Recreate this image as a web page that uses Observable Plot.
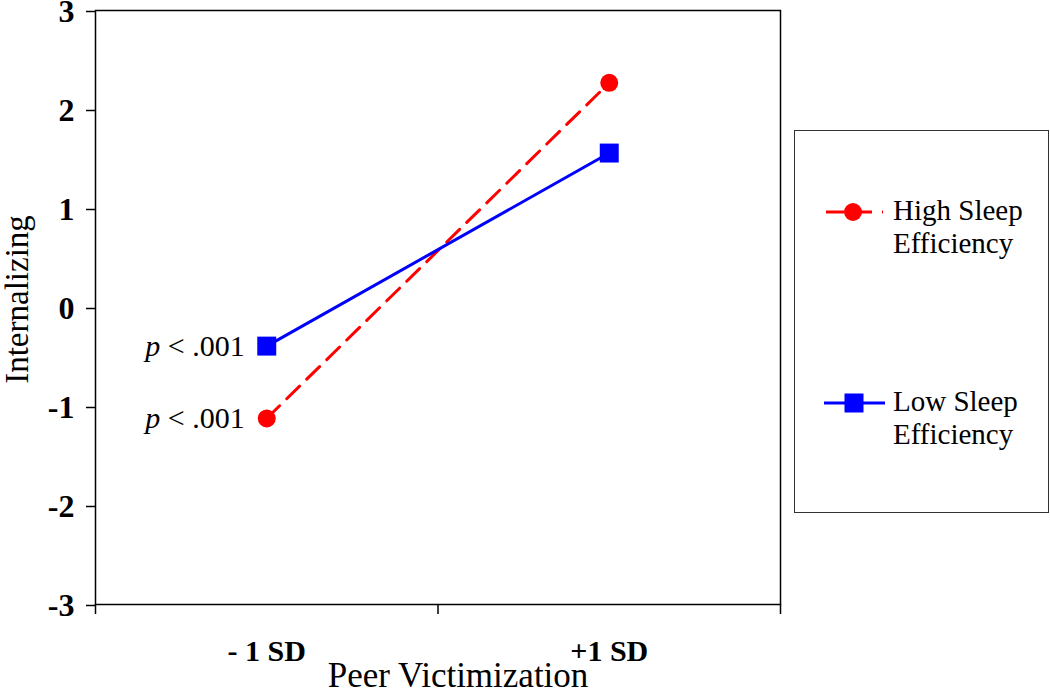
<!DOCTYPE html>
<html>
<head>
<meta charset="utf-8">
<script src="https://cdn.jsdelivr.net/npm/d3@7"></script>
<script src="https://cdn.jsdelivr.net/npm/@observablehq/plot@0.6"></script>
<style>
  body { margin: 0; background: #fff; }
  #wrap { position: relative; width: 1050px; height: 693px; font-family: "Liberation Serif", "Times New Roman", serif; }
  #legend { position: absolute; left: 794px; top: 130px; width: 255px; height: 383px; border: 1.5px solid #333; box-sizing: border-box; background: #fff; }
  .entry { position: absolute; left: 28px; display: flex; align-items: flex-start; }
  .entry svg { flex: none; margin-top: 6px; }
  .entry .lbl { font-size: 29px; line-height: 33px; margin-left: 8px; color: #000; }
</style>
</head>
<body>
<div id="wrap"><div id="legend"></div></div>
<script>
// ---- data ----
const categories = ["- 1 SD", "+1 SD"];
const seriesNames = ["High Sleep Efficiency", "Low Sleep Efficiency"];
const legendLines = [["High Sleep", "Efficiency"], ["Low Sleep", "Efficiency"]];
const highValues = [-1.12, 2.27];
const lowValues = [-0.39, 1.56];
const yTicks = [-3, -2, -1, 0, 1, 2, 3];
const pLabels = ["p < .001", "p < .001"]; // shown at "- 1 SD" for each series
const xTitle = "Peer Victimization";
const yTitle = "Internalizing";

const RED = "#ff0000", BLUE = "#0000ff";

const highRows = categories.map((c, i) => ({pos: i + 0.5, cat: c, value: highValues[i], series: seriesNames[0]}));
const lowRows = categories.map((c, i) => ({pos: i + 0.5, cat: c, value: lowValues[i], series: seriesNames[1]}));
const pRows = [
  {pos: 0.5, value: lowValues[0], text: pLabels[1]},
  {pos: 0.5, value: highValues[0], text: pLabels[0]}
];

const fmt = d => d < 0 ? "-" + (-d) : String(d);

const chart = Plot.plot({
  width: 1050,
  height: 693,
  marginLeft: 95,
  marginRight: 270,
  marginTop: 10,
  marginBottom: 89,
  style: {fontFamily: '"Liberation Serif", "Times New Roman", serif', background: "transparent", color: "#000", overflow: "visible"},
  x: {domain: [0, categories.length]},
  y: {domain: [-3, 3]},
  marks: [
    Plot.frame({stroke: "#000", strokeWidth: 1.5}),
    Plot.axisY({ticks: yTicks, tickSize: 9, tickPadding: 12, tickFormat: fmt, fontSize: 32, fontWeight: "bold", strokeWidth: 1.5, dy: 1, label: null}),
    Plot.axisX({ticks: d3.range(categories.length + 1), tickSize: 10, tickFormat: () => "", strokeWidth: 1.5, label: null}),
    Plot.axisX({ticks: categories.map((c, i) => i + 0.5), tickSize: 0, tickPadding: 35, tickFormat: d => categories[Math.floor(d)], fontSize: 30, fontWeight: "bold", label: null}),
    Plot.text([xTitle], {frameAnchor: "bottom", dx: 20, dy: 71, fontSize: 35, lineAnchor: "middle"}),
    Plot.text([yTitle], {frameAnchor: "left", dx: -78, dy: -8, rotate: -90, fontSize: 33, lineAnchor: "middle", textAnchor: "middle"}),
    Plot.line(highRows, {x: "pos", y: "value", stroke: RED, strokeWidth: 3, strokeDasharray: "18,10"}),
    Plot.line(lowRows, {x: "pos", y: "value", stroke: BLUE, strokeWidth: 3}),
    Plot.dot(highRows, {x: "pos", y: "value", r: 9, fill: RED, symbol: "circle"}),
    Plot.dot(lowRows, {x: "pos", y: "value", r: 10.7, fill: BLUE, symbol: "square"}),
    Plot.text(pRows, {x: "pos", y: "value", text: "text", dx: -22, textAnchor: "end", fontSize: 30})
  ]
});

// italic "p"
d3.select(chart).selectAll("text").each(function() {
  const t = this.textContent;
  if (pLabels.includes(t) && this.childElementCount === 0) {
    const sel = d3.select(this);
    sel.text(null);
    sel.append("tspan").attr("font-style", "italic").text(t.slice(0, 1));
    sel.append("tspan").text(t.slice(1));
  }
});

document.getElementById("wrap").prepend(chart);

// legend
const legend = document.getElementById("legend");
const tops = [63, 254];
seriesNames.forEach((name, i) => {
  const e = document.createElement("div");
  e.className = "entry";
  e.style.top = tops[i] + "px";
  const col = i === 0 ? RED : BLUE;
  let sw;
  if (i === 0) {
    sw = `<svg width="62" height="24"><line x1="3" y1="12" x2="60" y2="12" stroke="${col}" stroke-width="3" stroke-dasharray="18,10"/><circle cx="30" cy="12" r="9" fill="${col}"/></svg>`;
  } else {
    sw = `<svg width="62" height="24"><line x1="1" y1="12" x2="62" y2="12" stroke="${col}" stroke-width="3"/><rect x="21.5" y="2.5" width="19" height="19" fill="${col}"/></svg>`;
  }
  e.innerHTML = sw + `<div class="lbl">${legendLines[i].join("<br>")}</div>`;
  legend.appendChild(e);
});
</script>
</body>
</html>
